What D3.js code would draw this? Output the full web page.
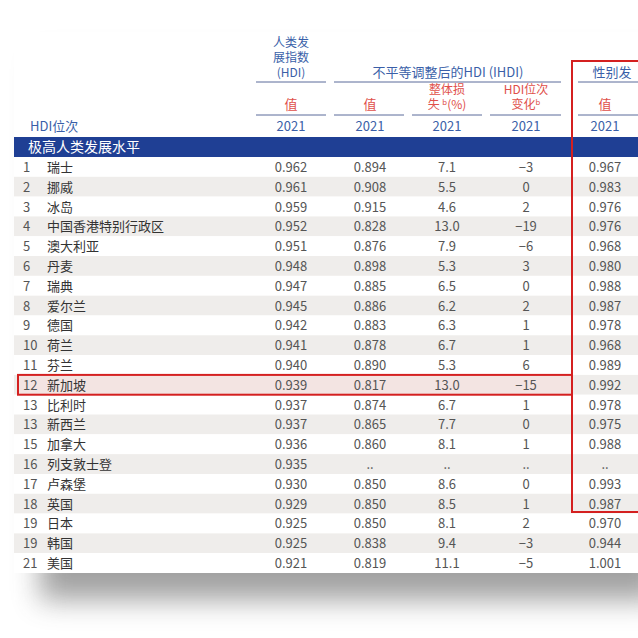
<!DOCTYPE html><html><head><meta charset="utf-8">
<script src="https://cdn.jsdelivr.net/npm/d3@7"></script>
<style>body{margin:0;background:#fff}</style></head><body>
<script>
const ranks=["1","2","3","4","5","6","7","8","9","10","11","12","13","13","15","16","17","18","19","19","21"];
const countries=["瑞士","挪威","冰岛","中国香港特别行政区","澳大利亚","丹麦","瑞典","爱尔兰","德国","荷兰","芬兰","新加坡","比利时","新西兰","加拿大","列支敦士登","卢森堡","英国","日本","韩国","美国"];
const hdi=["0.962","0.961","0.959","0.952","0.951","0.948","0.947","0.945","0.942","0.941","0.940","0.939","0.937","0.937","0.936","0.935","0.930","0.929","0.925","0.925","0.921"];
const ihdi=["0.894","0.908","0.915","0.828","0.876","0.898","0.885","0.886","0.883","0.878","0.890","0.817","0.874","0.865","0.860","..","0.850","0.850","0.850","0.838","0.819"];
const loss=["7.1","5.5","4.6","13.0","7.9","5.3","6.5","6.2","6.3","6.7","5.3","13.0","6.7","7.7","8.1","..","8.6","8.5","8.1","9.4","11.1"];
const rankChange=["−3","0","2","−19","−6","3","0","2","1","1","6","−15","1","0","1","..","0","1","2","−3","−5"];
const gdi=["0.967","0.983","0.976","0.976","0.968","0.980","0.988","0.987","0.978","0.968","0.989","0.992","0.978","0.975","0.988","..","0.993","0.987","0.970","0.944","1.001"];
const W=638,H=638;
const svg=d3.select("body").append("svg").attr("width",W).attr("height",H).style("font-family","'Noto Sans CJK SC','Noto Sans',sans-serif");
const defs=svg.append("defs");
const f=defs.append("filter").attr("id","sh").attr("x","-10%").attr("y","-10%").attr("width","130%").attr("height","130%");
f.append("feGaussianBlur").attr("stdDeviation",14);
svg.append("rect").attr("x",40).attr("y",60).attr("width",620).attr("height",540).attr("fill","#555").attr("opacity",0.55).attr("filter","url(#sh)");
svg.append("rect").attr("x",14).attr("y",32).attr("width",640).attr("height",540).attr("fill","#fff");
const y=d3.scaleBand().domain(d3.range(ranks.length)).range([157,573]);
const cols=[{x:291,d:hdi},{x:370,d:ihdi},{x:447,d:loss},{x:526,d:rankChange},{x:605,d:gdi}];
const hb="#3a5fa8",red="#e0504a";
svg.selectAll(".bg").data(d3.range(ranks.length)).join("rect").attr("x",14).attr("width",640).attr("y",i=>y(i)).attr("height",y.bandwidth()).attr("fill",i=>i%2?"#efedeb":"#fff");
svg.append("rect").attr("x",18).attr("y",y(11)).attr("width",554).attr("height",y.bandwidth()).attr("fill","#f3e4e2");
svg.append("rect").attr("x",14).attr("y",137).attr("width",640).attr("height",20).attr("fill","#1f3f94");
svg.append("text").attr("x",28).attr("y",152).attr("fill","#fff").attr("font-size",14).text("极高人类发展水平");
const rows=svg.selectAll(".r").data(d3.range(ranks.length)).join("g").attr("transform",i=>`translate(0,${y(i)+y.bandwidth()/2+5})`).attr("font-size",13).attr("fill","#444");
rows.append("text").attr("x",23).attr("fill","#555").text(i=>ranks[i]);
rows.append("text").attr("x",47).attr("fill","#333").text(i=>countries[i]);
cols.forEach(c=>rows.append("text").attr("x",c.x).attr("text-anchor","middle").attr("fill","#555").text(i=>c.d[i]));
const ht=(x,yy,t,col,s)=>svg.append("text").attr("x",x).attr("y",yy).attr("text-anchor","middle").attr("fill",col).attr("font-size",s||13).text(t);
ht(291,47,"人类发",hb,12);ht(291,62,"展指数",hb,12);ht(291,77,"(HDI)",hb,12);
ht(448,77,"不平等调整后的HDI (IHDI)",hb);
ht(612,77,"性别发",hb);
ht(447,94,"整体损",red,12);ht(447,109,"失 ᵇ(%)",red,12);
ht(526,94,"HDI位次",red,12);ht(526,109,"变化ᵇ",red,12);
[291,370,605].forEach(x=>ht(x,109,"值",red));
cols.forEach(c=>ht(c.x,131,"2021",hb));
svg.append("text").attr("x",30).attr("y",131).attr("fill",hb).attr("font-size",13).text("HDI位次");
const ln=(a,b,yy)=>svg.append("line").attr("x1",a).attr("x2",b).attr("y1",yy).attr("y2",yy).attr("stroke","#5a6a9a").attr("stroke-width",1);
ln(256,326,82);ln(334,561,82);ln(578,660,82);
ln(256,326,115);ln(334,404,115);ln(412,482,115);ln(490,561,115);ln(578,660,115);
svg.append("rect").attr("x",572).attr("y",61).attr("width",80).attr("height",451).attr("fill","none").attr("stroke","#d42020").attr("stroke-width",2);
svg.append("rect").attr("x",18).attr("y",y(11)).attr("width",554).attr("height",y.bandwidth()).attr("fill","none").attr("stroke","#d42020").attr("stroke-width",2);
</script></body></html>
